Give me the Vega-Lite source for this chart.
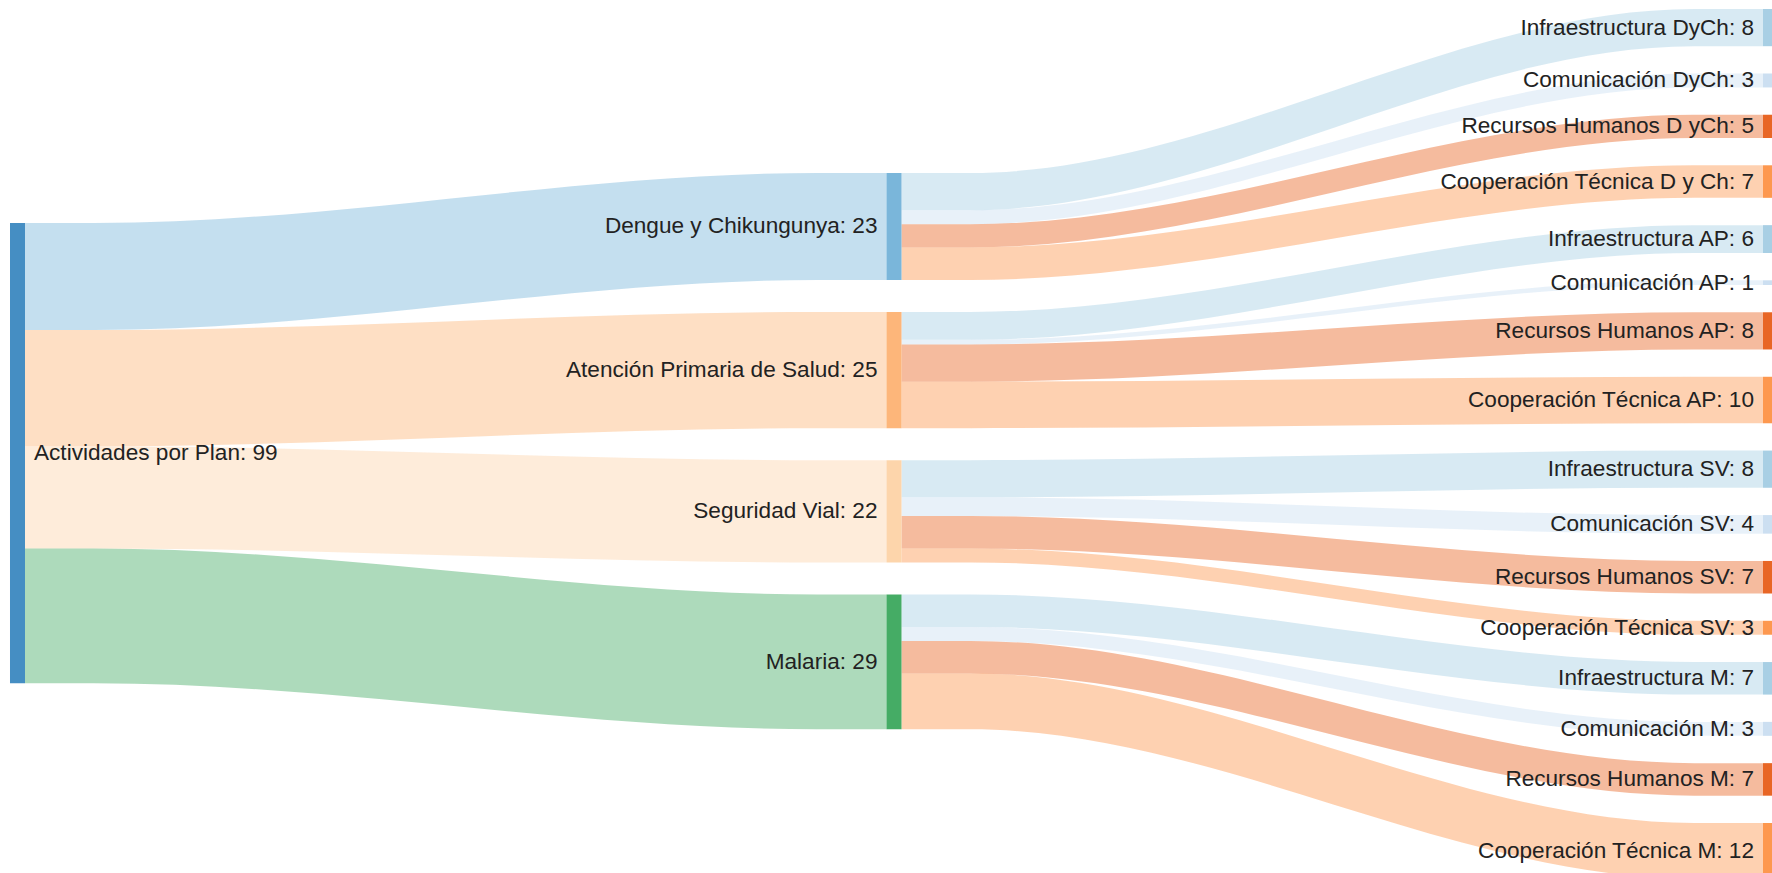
{
  "$schema": "https://vega.github.io/schema/vega-lite/v6.json",
  "width": 1772,
  "height": 873,
  "padding": 0,
  "autosize": {"type": "none"},
  "background": "white",
  "view": {"stroke": null},
  "config": {"text": {"font": "Liberation Sans"}},
  "data": {
    "values": [
      {"origen": "Actividades por Plan", "destino": "Dengue y Chikungunya", "valor": 23, "nivel": 1, "categoria": "Dengue y Chikungunya"},
      {"origen": "Actividades por Plan", "destino": "Atención Primaria de Salud", "valor": 25, "nivel": 1, "categoria": "Atención Primaria de Salud"},
      {"origen": "Actividades por Plan", "destino": "Seguridad Vial", "valor": 22, "nivel": 1, "categoria": "Seguridad Vial"},
      {"origen": "Actividades por Plan", "destino": "Malaria", "valor": 29, "nivel": 1, "categoria": "Malaria"},
      {"origen": "Dengue y Chikungunya", "destino": "Infraestructura DyCh", "valor": 8, "nivel": 2, "categoria": "Infraestructura"},
      {"origen": "Dengue y Chikungunya", "destino": "Comunicación DyCh", "valor": 3, "nivel": 2, "categoria": "Comunicación"},
      {"origen": "Dengue y Chikungunya", "destino": "Recursos Humanos D yCh", "valor": 5, "nivel": 2, "categoria": "Recursos Humanos"},
      {"origen": "Dengue y Chikungunya", "destino": "Cooperación Técnica D y Ch", "valor": 7, "nivel": 2, "categoria": "Cooperación Técnica"},
      {"origen": "Atención Primaria de Salud", "destino": "Infraestructura AP", "valor": 6, "nivel": 2, "categoria": "Infraestructura"},
      {"origen": "Atención Primaria de Salud", "destino": "Comunicación AP", "valor": 1, "nivel": 2, "categoria": "Comunicación"},
      {"origen": "Atención Primaria de Salud", "destino": "Recursos Humanos AP", "valor": 8, "nivel": 2, "categoria": "Recursos Humanos"},
      {"origen": "Atención Primaria de Salud", "destino": "Cooperación Técnica AP", "valor": 10, "nivel": 2, "categoria": "Cooperación Técnica"},
      {"origen": "Seguridad Vial", "destino": "Infraestructura SV", "valor": 8, "nivel": 2, "categoria": "Infraestructura"},
      {"origen": "Seguridad Vial", "destino": "Comunicación SV", "valor": 4, "nivel": 2, "categoria": "Comunicación"},
      {"origen": "Seguridad Vial", "destino": "Recursos Humanos SV", "valor": 7, "nivel": 2, "categoria": "Recursos Humanos"},
      {"origen": "Seguridad Vial", "destino": "Cooperación Técnica SV", "valor": 3, "nivel": 2, "categoria": "Cooperación Técnica"},
      {"origen": "Malaria", "destino": "Infraestructura M", "valor": 7, "nivel": 2, "categoria": "Infraestructura"},
      {"origen": "Malaria", "destino": "Comunicación M", "valor": 3, "nivel": 2, "categoria": "Comunicación"},
      {"origen": "Malaria", "destino": "Recursos Humanos M", "valor": 7, "nivel": 2, "categoria": "Recursos Humanos"},
      {"origen": "Malaria", "destino": "Cooperación Técnica M", "valor": 12, "nivel": 2, "categoria": "Cooperación Técnica"}
    ]
  },
  "transform": [
    {"window": [{"op": "row_number", "as": "i"}, {"op": "sum", "field": "valor", "as": "cum"}], "groupby": ["nivel"], "frame": [null, 0]},
    {"joinaggregate": [{"op": "min", "field": "i", "as": "fi"}], "groupby": ["nivel", "origen"]},
    {"window": [{"op": "dense_rank", "as": "srank"}], "sort": [{"field": "fi", "order": "ascending"}], "groupby": ["nivel"]},
    {"calculate": "datum.cum - datum.valor", "as": "prev"},
    {"calculate": "datum.nivel == 1 ? 47.96 + datum.prev : 37.2 + datum.prev + 6.88 * (datum.srank - 1)", "as": "sy"},
    {"calculate": "datum.prev + (datum.nivel == 1 ? 37.2 + 6.88 * (datum.i - 1) : 1.935 + 5.87 * (datum.i - 1))", "as": "ty"}
  ],
  "layer": [
    {
      "transform": [
        {"calculate": "datum.nivel - 1 + 0.01711", "as": "xs"},
        {"calculate": "datum.nivel", "as": "xt"},
        {"calculate": "datum.xs + 0.08 * (datum.xt - datum.xs)", "as": "xa"},
        {"calculate": "datum.xt - 0.08 * (datum.xt - datum.xs)", "as": "xb"},
        {"fold": ["xs", "xa", "xb", "xt"], "as": ["pt", "xpos"]},
        {"calculate": "(datum.pt == 'xs' || datum.pt == 'xa') ? datum.sy : datum.ty", "as": "top"},
        {"calculate": "datum.top + datum.valor", "as": "bot"}
      ],
      "mark": {"type": "area", "interpolate": "monotone", "opacity": 0.4},
      "encoding": {
        "x": {"field": "xpos", "type": "quantitative", "scale": {"domain": [0, 2], "range": [10, 1763], "nice": false, "zero": false}, "axis": null},
        "y": {"field": "top", "type": "quantitative", "scale": {"domain": [0, 187.742], "reverse": true, "nice": false, "zero": false}, "axis": null},
        "y2": {"field": "bot"},
        "color": {"field": "categoria", "type": "nominal", "legend": null,
          "scale": {"domain": ["Actividades por Plan", "Dengue y Chikungunya", "Atención Primaria de Salud", "Seguridad Vial", "Malaria", "Infraestructura", "Comunicación", "Recursos Humanos", "Cooperación Técnica"],
                    "range": ["#3182bd", "#6baed6", "#fdae6b", "#fdd0a2", "#31a354", "#9ecae1", "#c6dbef", "#e6550d", "#fd8d3c"]}},
        "detail": {"field": "destino", "type": "nominal"}
      }
    },
    {
      "transform": [
        {"calculate": "datum.nivel + 0.01711", "as": "xe"},
        {"calculate": "datum.ty + datum.valor", "as": "tb"}
      ],
      "mark": {"type": "rect", "opacity": 0.9},
      "encoding": {
        "x": {"field": "nivel", "type": "quantitative", "scale": {"domain": [0, 2], "range": [10, 1763], "nice": false, "zero": false}, "axis": null},
        "x2": {"field": "xe"},
        "y": {"field": "ty", "type": "quantitative", "scale": {"domain": [0, 187.742], "reverse": true, "nice": false, "zero": false}, "axis": null},
        "y2": {"field": "tb"},
        "color": {"field": "categoria", "type": "nominal", "legend": null}
      }
    },
    {
      "transform": [
        {"filter": "datum.nivel == 1"},
        {"aggregate": [{"op": "min", "field": "sy", "as": "top"}, {"op": "sum", "field": "valor", "as": "total"}], "groupby": ["origen"]},
        {"calculate": "datum.top + datum.total", "as": "bot"}
      ],
      "mark": {"type": "rect", "opacity": 0.9},
      "encoding": {
        "x": {"datum": 0, "type": "quantitative", "scale": {"domain": [0, 2], "range": [10, 1763], "nice": false, "zero": false}, "axis": null},
        "x2": {"datum": 0.01711},
        "y": {"field": "top", "type": "quantitative", "scale": {"domain": [0, 187.742], "reverse": true, "nice": false, "zero": false}, "axis": null},
        "y2": {"field": "bot"},
        "color": {"field": "origen", "type": "nominal", "legend": null}
      }
    },
    {
      "transform": [
        {"filter": "datum.nivel == 1"},
        {"aggregate": [{"op": "min", "field": "sy", "as": "top"}, {"op": "sum", "field": "valor", "as": "total"}], "groupby": ["origen"]},
        {"calculate": "datum.top + datum.total / 2", "as": "mid"},
        {"calculate": "datum.origen + ': ' + datum.total", "as": "etiqueta"}
      ],
      "mark": {"type": "text", "align": "left", "baseline": "middle", "dx": 9, "fontSize": 22.6, "color": "#222222"},
      "encoding": {
        "x": {"datum": 0.01711, "type": "quantitative", "scale": {"domain": [0, 2], "range": [10, 1763], "nice": false, "zero": false}, "axis": null},
        "y": {"field": "mid", "type": "quantitative", "scale": {"domain": [0, 187.742], "reverse": true, "nice": false, "zero": false}, "axis": null},
        "text": {"field": "etiqueta", "type": "nominal"}
      }
    },
    {
      "transform": [
        {"calculate": "datum.ty + datum.valor / 2", "as": "mid"},
        {"calculate": "datum.destino + ': ' + datum.valor", "as": "etiqueta"}
      ],
      "mark": {"type": "text", "align": "right", "baseline": "middle", "dx": -9, "fontSize": 22.6, "color": "#222222"},
      "encoding": {
        "x": {"field": "nivel", "type": "quantitative", "scale": {"domain": [0, 2], "range": [10, 1763], "nice": false, "zero": false}, "axis": null},
        "y": {"field": "mid", "type": "quantitative", "scale": {"domain": [0, 187.742], "reverse": true, "nice": false, "zero": false}, "axis": null},
        "text": {"field": "etiqueta", "type": "nominal"}
      }
    }
  ]
}
